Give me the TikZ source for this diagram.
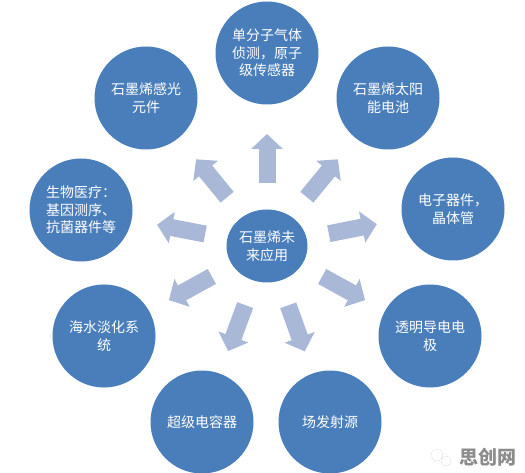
\documentclass[tikz,border=0pt]{standalone}
\usepackage{fontspec}
\setmainfont{Noto Sans CJK SC}
\usetikzlibrary{positioning}
\usetikzlibrary{arrows.meta,shapes}
\usetikzlibrary{calc}
\definecolor{circblue}{HTML}{4A7EBB}
\definecolor{arrowblue}{HTML}{A9B8D6}
\tikzstyle{bigvertex}=[circle,fill=circblue,minimum size=103pt,inner sep=0pt,text=white,align=center,font=\fontsize{14}{17.5}\selectfont]
\tikzstyle{centervertex}=[ellipse,fill=circblue,minimum width=81pt,minimum height=73pt,inner sep=0pt,text=white,align=center,font=\fontsize{14}{17.5}\selectfont]
\tikzstyle{blockarrow}=[draw=arrowblue,line width=17pt,-{Triangle[width=31pt,length=15pt]}]
\tikzstyle{wxbubble}=[circle,draw=black!35,densely dotted,inner sep=0pt]

\begin{document}
\begin{tikzpicture}[x=1pt,y=-1pt]
    \useasboundingbox (0,0) rectangle (525,473);

    \node[centervertex] (center) at (267,246) {石墨烯未\\来应用};

    \foreach \pos/\name/\label in {{(267,53)/top/{单分子气体\\侦测，原子\\级传感器}}, {(146,98)/ul/{石墨烯感光\\元件}}, {(388,98)/ur/{石墨烯太阳\\能电池}}, {(81,210)/l/{生物医疗：\\基因测序、\\抗菌器件等}}, {(453,209)/r/{电子器件，\\晶体管}}, {(104,336)/ll/{海水淡化系\\统}}, {(430,336)/lr/{透明导电电\\极}}, {(202,422)/bl/超级电容器}, {(330,422)/br/场发射源}}
        \node[bigvertex] (\name) at \pos {\label};

    \foreach \dest in {top,ul,ur,l,r,ll,lr,bl,br}
        \draw[blockarrow] ($(center)!63pt!(\dest)$) -- ($(center)!112pt!(\dest)$);

    % watermark
    \node[wxbubble,minimum size=12pt] (wxa) at (437,455) {};
    \node[wxbubble,minimum size=10pt] (wxb) at (446,461) {};
    \node[font=\fontsize{19}{19}\selectfont\bfseries,text=black!45,anchor=west] (wm) at (456,457) {思创网};
\end{tikzpicture}
\end{document}
